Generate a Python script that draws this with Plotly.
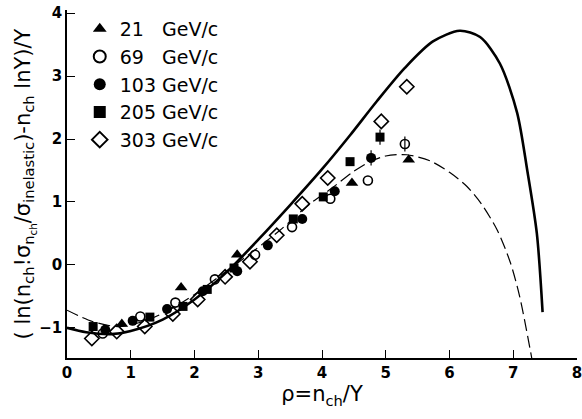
import plotly.graph_objects as go

# ---- data ----
x21 = [0.86, 1.79, 2.67, 4.47, 5.36]
y21 = [-0.94, -0.36, 0.16, 1.30, 1.67]

x69 = [0.56, 1.15, 1.70, 2.32, 2.95, 3.53, 4.13, 4.72, 5.30]
y69 = [-1.09, -0.82, -0.60, -0.23, 0.16, 0.60, 1.05, 1.34, 1.92]
e69 = [0, 0, 0, 0, 0, 0, 0, 0, 0.12]

x103 = [0.60, 1.03, 1.57, 2.13, 2.67, 3.15, 3.69, 4.20, 4.77]
y103 = [-1.03, -0.89, -0.70, -0.42, -0.10, 0.31, 0.73, 1.17, 1.70]
e103 = [0, 0, 0, 0, 0, 0, 0, 0, 0.12]

x205 = [0.41, 1.30, 1.82, 2.20, 2.62, 3.55, 4.02, 4.44, 4.91]
y205 = [-0.98, -0.83, -0.66, -0.39, -0.05, 0.73, 1.08, 1.64, 2.03]
e205 = [0, 0, 0, 0, 0, 0, 0, 0, 0.12]

x303 = [0.39, 0.78, 1.22, 1.66, 2.05, 2.48, 2.87, 3.29, 3.69, 4.09, 4.93, 5.33]
y303 = [-1.17, -1.06, -0.98, -0.78, -0.55, -0.19, 0.05, 0.47, 0.97, 1.38, 2.28, 2.83]

solid_x = [0.0, 0.3, 0.7, 1.0, 1.5, 2.0, 2.5, 3.0, 3.5, 4.0, 4.44, 4.86,
           5.3, 5.74, 6.16, 6.48, 6.79, 7.06, 7.22, 7.37, 7.46]
solid_y = [-1.0, -1.07, -1.1, -1.05, -0.87, -0.55, -0.12, 0.4, 0.95, 1.52,
           2.06, 2.6, 3.13, 3.55, 3.72, 3.62, 3.2, 2.42, 1.5, 0.5, -0.75]

dash_x = [0.0, 0.4, 0.8, 1.2, 1.6, 2.0, 2.5, 2.9, 3.34, 3.81, 4.13, 4.49, 4.75,
          5.0, 5.33, 5.7, 6.0, 6.27, 6.5, 6.75, 6.95, 7.1, 7.29]
dash_y = [-0.72, -0.9, -0.98, -0.9, -0.72, -0.47, -0.1, 0.2, 0.55, 0.97, 1.2, 1.48,
          1.64, 1.73, 1.75, 1.65, 1.47, 1.25, 0.97, 0.55, 0.05, -0.5, -1.48]

labels = ["21\u00a0\u00a0\u00a0GeV/c", "69\u00a0\u00a0\u00a0GeV/c", "103\u00a0GeV/c",
          "205\u00a0GeV/c", "303\u00a0GeV/c"]

fig = go.Figure()

fig.add_trace(go.Scatter(x=solid_x, y=solid_y, mode="lines", line_shape="spline",
                         line=dict(color="black", width=2.6, smoothing=0.8), showlegend=False))
fig.add_trace(go.Scatter(x=dash_x, y=dash_y, mode="lines", line_shape="spline",
                         line=dict(color="black", width=1.2, dash="12px,5px", smoothing=0.8),
                         showlegend=False))

eb = dict(type="data", visible=True, color="black", thickness=1.2, width=0)

fig.add_trace(go.Scatter(x=x21, y=y21, mode="markers", name=labels[0],
                         marker=dict(symbol="triangle-up", size=11, color="black")))
fig.add_trace(go.Scatter(x=x69, y=y69, mode="markers", name=labels[1],
                         error_y=dict(array=e69, **eb),
                         marker=dict(symbol="circle-open", size=9, color="black",
                                     line=dict(width=1.6, color="black"))))
fig.add_trace(go.Scatter(x=x103, y=y103, mode="markers", name=labels[2],
                         error_y=dict(array=e103, **eb),
                         marker=dict(symbol="circle", size=10, color="black")))
fig.add_trace(go.Scatter(x=x205, y=y205, mode="markers", name=labels[3],
                         error_y=dict(array=e205, **eb),
                         marker=dict(symbol="square", size=9, color="black")))
fig.add_trace(go.Scatter(x=x303, y=y303, mode="markers", name=labels[4],
                         marker=dict(symbol="diamond-open", size=11, color="black",
                                     line=dict(width=1.6, color="black"))))

tickfont = dict(family="DejaVu Sans", size=15, color="black", weight="bold")

fig.update_layout(
    width=582, height=419,
    margin=dict(l=67, r=5, t=10, b=61),
    paper_bgcolor="white", plot_bgcolor="white",
    font=dict(family="DejaVu Sans", size=15, color="black"),
    legend=dict(x=0.025, y=1.0, xanchor="left", yanchor="top",
                bgcolor="rgba(0,0,0,0)", font=dict(family="DejaVu Sans", size=19),
                tracegroupgap=0, itemsizing="constant"),
    xaxis=dict(range=[0, 8], tickvals=[0, 1, 2, 3, 4, 5, 6, 7, 8],
               ticks="inside", ticklen=8, tickwidth=1.2, tickcolor="black",
               showline=True, linecolor="black", linewidth=1.5, mirror=False,
               showgrid=False, zeroline=False, automargin=False,
               ticklabeloverflow="allow",
               tickfont=tickfont,
               title=dict(text="\u03c1=n<sub>ch</sub>/Y",
                          font=dict(family="DejaVu Sans", size=21), standoff=6)),
    yaxis=dict(range=[-1.48, 4.05], tickvals=[-1, 0, 1, 2, 3, 4],
               ticks="inside", ticklen=8, tickwidth=1.2, tickcolor="black",
               showline=True, linecolor="black", linewidth=1.5, mirror=False,
               showgrid=False, zeroline=False, automargin=False,
               ticklabeloverflow="allow",
               tickfont=tickfont,
               title=dict(text="( ln(n<sub>ch</sub>!\u03c3<sub>n<sub>ch</sub></sub>/\u03c3<sub>inelastic</sub>)-n<sub>ch</sub> lnY)/Y",
                          font=dict(family="DejaVu Sans", size=21), standoff=0)),
)

fig.write_html("out.html", config={"displayModeBar": False},
               post_script="document.body.style.margin='0';document.body.style.overflow='hidden';")
